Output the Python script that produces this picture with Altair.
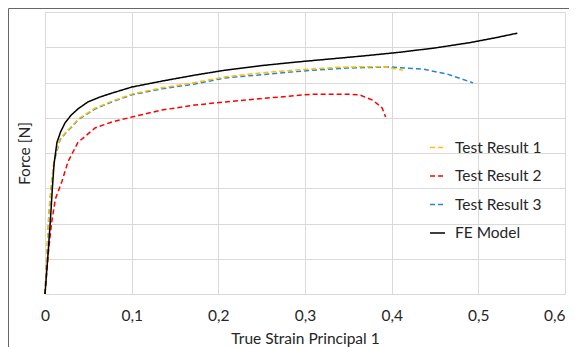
import altair as alt
import pandas as pd

series_names = ["Test Result 1", "Test Result 2", "Test Result 3", "FE Model"]
series_colors = ["#FFC000", "#FF0000", "#2A85D0", "#000000"]

tr1_x = [0, 0.0023, 0.0046, 0.0075, 0.0104, 0.0173, 0.025, 0.031, 0.038, 0.0577, 0.0773, 0.1, 0.135, 0.173, 0.208, 0.24, 0.271, 0.31, 0.348, 0.39, 0.413]
tr1_y = [0, 1.2, 2.35, 3.15, 3.8, 4.4, 4.62, 4.76, 4.96, 5.27, 5.47, 5.67, 5.85, 6.0, 6.16, 6.25, 6.32, 6.39, 6.44, 6.45, 6.35]

tr2_x = [0, 0.004, 0.0075, 0.012, 0.0196, 0.0265, 0.038, 0.0577, 0.0773, 0.1, 0.135, 0.173, 0.208, 0.271, 0.309, 0.348, 0.363, 0.378, 0.389, 0.393]
tr2_y = [0, 1.2, 2.0, 2.7, 3.2, 3.75, 4.3, 4.71, 4.88, 5.02, 5.22, 5.36, 5.45, 5.59, 5.67, 5.67, 5.65, 5.50, 5.28, 5.02]

tr3_x = [0, 0.0023, 0.0046, 0.0075, 0.0104, 0.0173, 0.025, 0.031, 0.038, 0.0577, 0.0773, 0.1, 0.135, 0.173, 0.208, 0.24, 0.271, 0.31, 0.348, 0.398, 0.436, 0.464, 0.494]
tr3_y = [0, 1.16, 2.3, 3.1, 3.75, 4.37, 4.6, 4.74, 4.94, 5.25, 5.45, 5.65, 5.82, 5.96, 6.13, 6.2, 6.27, 6.35, 6.41, 6.44, 6.38, 6.24, 5.99]

fe_x = [0, 0.004, 0.0065, 0.0085, 0.0105, 0.0138, 0.018, 0.023, 0.03, 0.038, 0.0496, 0.0625, 0.0773, 0.1, 0.135, 0.173, 0.208, 0.25, 0.29, 0.33, 0.37, 0.41, 0.45, 0.49, 0.52, 0.545]
fe_y = [0, 1.3, 2.2, 3.0, 3.7, 4.3, 4.6, 4.85, 5.07, 5.25, 5.45, 5.58, 5.70, 5.87, 6.04, 6.21, 6.35, 6.48, 6.58, 6.67, 6.76, 6.86, 6.98, 7.13, 7.27, 7.40]

x_ticks = [0, 0.1, 0.2, 0.3, 0.4, 0.5, 0.6]
y_grid = [0, 1, 2, 3, 4, 5, 6, 7, 8]

rows = []
for name, xs, ys in [("Test Result 1", tr1_x, tr1_y), ("Test Result 2", tr2_x, tr2_y),
                     ("Test Result 3", tr3_x, tr3_y), ("FE Model", fe_x, fe_y)]:
    for i, (a, b) in enumerate(zip(xs, ys)):
        rows.append({"series": name, "strain": a, "force": b, "idx": i})
df = pd.DataFrame(rows)

FONT = "Lato"
TXT = "#262626"

color_scale = alt.Scale(domain=series_names, range=series_colors)
dash_scale = alt.Scale(domain=series_names, range=[[5, 3], [5, 3], [5, 3], [1, 0]])

x_enc = alt.X("strain:Q", scale=alt.Scale(domain=[0, 0.6], nice=False),
              axis=alt.Axis(values=x_ticks, title="True Strain Principal 1",
                            labelExpr="datum.value == 0 ? '0' : replace(format(datum.value, '.1f'), '.', ',')",
                            ticks=False, domain=False, labelPadding=14, titlePadding=8,
                            labelFlush=False, gridColor="#d9d9d9",
                            labelAlign={"condition": {"test": "datum.value >= 0.59", "value": "right"}, "value": "center"}))
y_enc = alt.Y("force:Q", scale=alt.Scale(domain=[0, 8], nice=False),
              axis=alt.Axis(values=y_grid, title="Force [N]", labels=False, ticks=False,
                            domain=False, titlePadding=13, gridColor="#d9d9d9"))

legend = alt.Legend(title=None, orient="none", legendX=384, legendY=127,
                    symbolType="stroke", symbolSize=225, symbolStrokeWidth=1.5,
                    labelFontSize=15.5, labelFont=FONT, labelColor=TXT,
                    rowPadding=11.5, labelOffset=9)

def layer(name):
    return alt.Chart(df).transform_filter(alt.datum.series == name).mark_line(strokeWidth=1.5).encode(
        x=x_enc, y=y_enc,
        color=alt.Color("series:N", scale=color_scale, legend=legend),
        strokeDash=alt.StrokeDash("series:N", scale=dash_scale, legend=legend),
        order="idx:Q",
    )

border_df = pd.DataFrame({"a": [0]})
left_border = alt.Chart(border_df).mark_rule(color="#666666", strokeWidth=1).encode(
    x=alt.value(-36.5), y=alt.value(-3.5), y2=alt.value(340))
top_border = alt.Chart(border_df).mark_rule(color="#666666", strokeWidth=1).encode(
    x=alt.value(-36.5), x2=alt.value(530), y=alt.value(-3.5))

chart = alt.layer(
    layer("Test Result 3"), layer("Test Result 1"), layer("Test Result 2"), layer("FE Model"),
    left_border, top_border,
).properties(
    width=520, height=282,
    padding={"left": 37, "top": 4, "right": 4, "bottom": 53},
    autosize=alt.AutoSizeParams(type="none"),
    background="white",
).configure_view(stroke=None).configure_axis(
    labelFont=FONT, titleFont=FONT, labelFontSize=15.5, titleFontSize=15.5,
    labelColor=TXT, titleColor=TXT, titleFontWeight="normal",
)

chart.save("out.html", embed_options={"renderer": "svg", "actions": False})
